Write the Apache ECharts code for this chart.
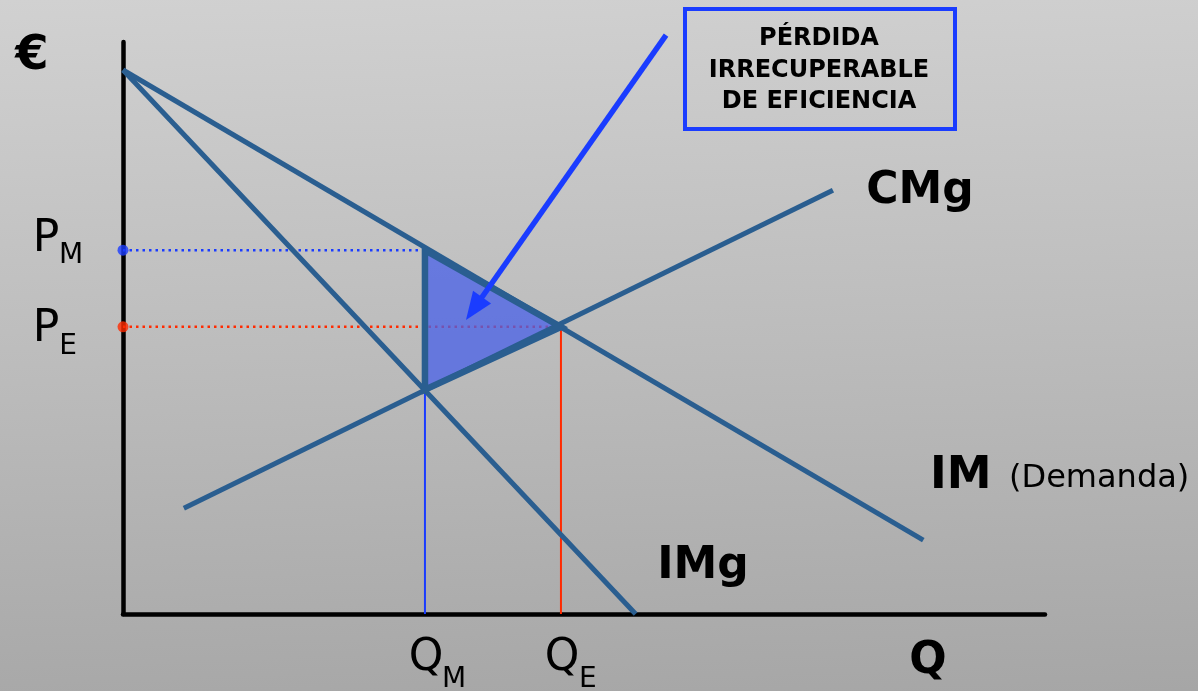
<!DOCTYPE html>
<html>
<head>
<meta charset="utf-8">
<script src="https://cdn.jsdelivr.net/npm/echarts@6/dist/echarts.min.js"></script>
<style>
  html, body { margin: 0; padding: 0; }
  #chart {
    width: 1198px; height: 691px;
    background: linear-gradient(178deg, #d1d1d1 0%, #bcbcbc 50%, #a6a6a6 100%);
  }
</style>
</head>
<body>
<div id="chart"></div>
<script>
// Curves as endpoint pairs [Q, €]
const demandLine = [[0, 95.1], [86.8, 12.9]];          // IM (Demanda)
const marginalRevenueLine = [[0, 95.1], [55.6, 0]];    // IMg
const marginalCostLine = [[6.6, 18.5], [77, 74.1]];    // CMg

// Monopoly and efficient outcomes
const qMonopoly = 32.75, pMonopoly = 63.6;
const qEfficient = 47.5, pEfficient = 50.2;
const costAtMonopoly = 39.2;
const deadweightTriangle = [[qMonopoly, pMonopoly], [qEfficient, pEfficient], [qMonopoly, costAtMonopoly]];

// Annotation arrow (start, tip) and its caption
const arrowPath = [[58.9, 101.2], [37.2, 51.4]];
const boxLines = ['PÉRDIDA', 'IRRECUPERABLE', 'DE EFICIENCIA'];

const CURVE = '#2a5e90';
const BLUE = '#1a3cff';
const RED = '#ff2a00';
const FONT = 'DejaVu Sans';

const chart = echarts.init(document.getElementById('chart'), null, { renderer: 'canvas' });

const axisCommon = {
  type: 'value', min: 0, max: 100,
  axisLine: { show: true, onZero: false, lineStyle: { color: '#000', width: 4.5 } },
  axisTick: { show: false }, axisLabel: { show: false }, splitLine: { show: false }
};

function segment(data, color, width, type, z) {
  return {
    type: 'line', data: data, symbol: 'none', silent: true, clip: false, z: z,
    lineStyle: { color: color, width: width, type: type || 'solid', cap: 'butt' }
  };
}

chart.setOption({
  animation: false,
  backgroundColor: 'transparent',
  grid: { left: 123, top: 42, right: 153, bottom: 77 },
  xAxis: axisCommon,
  yAxis: axisCommon,
  series: [
    segment([[0, pMonopoly], [qMonopoly, pMonopoly]], BLUE, 2.5, [2.5, 4], 2),
    segment([[0, pEfficient], [qEfficient, pEfficient]], RED, 2.5, [2.5, 4], 2),
    segment([[qMonopoly, 0], [qMonopoly, costAtMonopoly]], BLUE, 2, 'solid', 2),
    segment([[qEfficient, 0], [qEfficient, pEfficient]], RED, 2, 'solid', 2),
    {
      type: 'custom', coordinateSystem: 'cartesian2d', z: 3, silent: true,
      data: [deadweightTriangle[0]],
      renderItem: function (params, api) {
        const pts = deadweightTriangle.map(function (p) { return api.coord(p); });
        return {
          type: 'polygon', shape: { points: pts },
          style: { fill: 'rgba(72,96,232,0.75)', stroke: 'transparent' }
        };
      }
    },
    segment(demandLine, CURVE, 5, 'solid', 4),
    segment(marginalRevenueLine, CURVE, 5, 'solid', 4),
    segment(marginalCostLine, CURVE, 5, 'solid', 4),
    {
      type: 'custom', coordinateSystem: 'cartesian2d', z: 5, silent: true,
      data: [deadweightTriangle[0]],
      renderItem: function (params, api) {
        const pts = deadweightTriangle.map(function (p) { return api.coord(p); });
        return {
          type: 'polygon', shape: { points: pts },
          style: { fill: 'transparent', stroke: CURVE, lineWidth: 6.5, lineJoin: 'miter' }
        };
      }
    },
    {
      type: 'scatter', z: 6, clip: false, silent: true, symbolSize: 11,
      data: [{ value: [0, pMonopoly], itemStyle: { color: BLUE } },
             { value: [0, pEfficient], itemStyle: { color: RED } }]
    },
    {
      type: 'custom', coordinateSystem: 'cartesian2d', z: 7, silent: true, clip: false,
      data: [arrowPath[1]],
      renderItem: function (params, api) {
        const a = api.coord(arrowPath[0]);
        const b = api.coord(arrowPath[1]);
        const dx = b[0] - a[0], dy = b[1] - a[1];
        const len = Math.hypot(dx, dy), ux = dx / len, uy = dy / len;
        const headLen = 28, headHalf = 11;
        const base = [b[0] - ux * headLen, b[1] - uy * headLen];
        return {
          type: 'group',
          children: [
            { type: 'line', shape: { x1: a[0], y1: a[1], x2: base[0] + ux * 3, y2: base[1] + uy * 3 },
              style: { stroke: BLUE, lineWidth: 5.5 } },
            { type: 'polygon',
              shape: { points: [b, [base[0] - uy * headHalf, base[1] + ux * headHalf],
                                   [base[0] + uy * headHalf, base[1] - ux * headHalf]] },
              style: { fill: BLUE } }
          ]
        };
      }
    }
  ]
});

// Axis captions and curve names, placed from the chart's own scale
function px(x, y) { return chart.convertToPixel({ gridIndex: 0 }, [x, y]); }
function txt(text, x, y, size, bold, align) {
  return {
    type: 'text', x: x, y: y, z: 20, silent: true,
    style: {
      text: text, fill: '#000', fontFamily: FONT, fontSize: size,
      fontWeight: bold ? 'bold' : 'normal', align: align || 'center', verticalAlign: 'middle'
    }
  };
}

const pM = px(0, pMonopoly), pE = px(0, pEfficient);
const qM = px(qMonopoly, 0), qE = px(qEfficient, 0);
const origin = px(0, 0);

const graphics = [
  txt('€', 32, 57, 48, true),
  txt('P', 46, pM[1] - 11, 44, false), txt('M', 71, pM[1] + 6, 28, false),
  txt('P', 46, pE[1] + 3, 44, false), txt('E', 68, pE[1] + 20, 28, false),
  txt('Q', qM[0] + 1, origin[1] + 45, 44, false), txt('M', qM[0] + 29, origin[1] + 66, 28, false),
  txt('Q', qE[0] + 1, origin[1] + 45, 44, false), txt('E', qE[0] + 27, origin[1] + 66, 28, false),
  txt('Q', 928, 662, 44, true),
  txt('CMg', 920, 192, 44, true),
  txt('IMg', 703, 567, 44, true),
  txt('IM', 930, 476, 45, true, 'left'),
  txt('(Demanda)', 1009, 479, 32, false, 'left'),
  {
    type: 'rect', z: 20, silent: true,
    shape: { x: 685, y: 9, width: 270, height: 120 },
    style: { fill: 'transparent', stroke: BLUE, lineWidth: 4 }
  }
];
boxLines.forEach(function (line, i) {
  graphics.push(txt(line, 819, 39 + i * 31.5, 24, true));
});
chart.setOption({ graphic: graphics });
</script>
</body>
</html>
